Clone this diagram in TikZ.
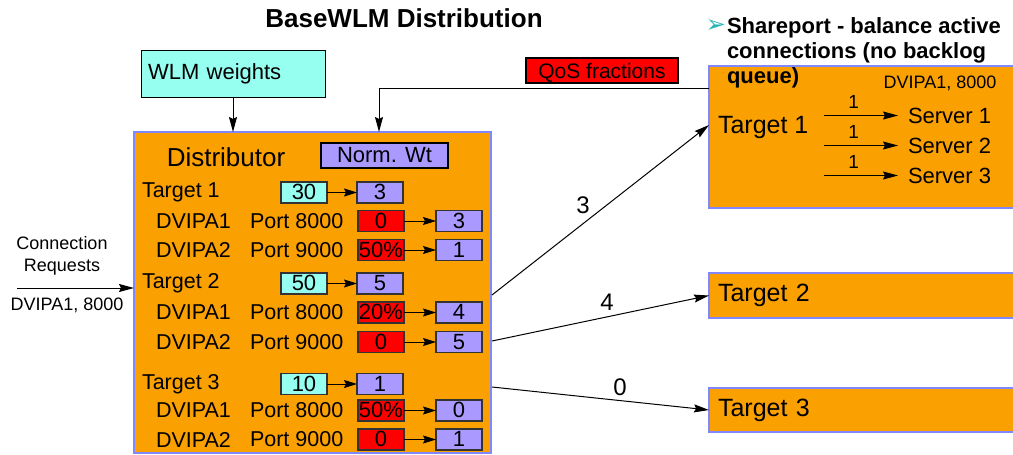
\documentclass[tikz,border=0pt]{standalone}
\usepackage{fontspec}
\setmainfont{Liberation Sans}
\newfontfamily\symfont{DejaVu Sans}
\usetikzlibrary{arrows.meta,calc}

\definecolor{boxorange}{RGB}{250,160,0}
\definecolor{edgeblue}{RGB}{128,136,255}
\definecolor{wcyan}{RGB}{150,255,240}
\definecolor{nlav}{RGB}{170,153,255}
\definecolor{qred}{RGB}{255,0,0}
\definecolor{bullteal}{RGB}{40,180,180}

\newcommand\fsz[1]{\fontsize{#1}{#1}\selectfont}

\begin{document}
\begin{tikzpicture}[x=1pt,y=-1pt,
  every node/.style={inner sep=0pt, outer sep=0pt},
  panel/.style={draw=edgeblue, line width=2.5pt, fill=boxorange},
  numbox/.style={draw=black!80, line width=1.1pt, minimum width=46pt, minimum height=21pt,
                 font=\fsz{22}, text depth=0pt, text height=14pt},
  wbox/.style={numbox, fill=wcyan},
  nbox/.style={numbox, fill=nlav},
  qbox/.style={numbox, fill=qred},
  link/.style={line width=1pt, -{Stealth[length=15pt,width=8pt,inset=2pt]}},
  small link/.style={line width=1pt, -{Stealth[length=13pt,width=8pt,inset=2pt]}},
  rowlabel/.style={anchor=west, font=\fsz{21.5}},
]
\useasboundingbox (0,0) rectangle (1013,455);

% title
\node[font=\bfseries\fsz{26}] (title) at (404,18) {BaseWLM Distribution};

% inputs above the distributor
\node[draw, line width=0.9pt, fill=wcyan, minimum width=184pt, minimum height=47pt,
      text width=170pt, align=left, font=\fsz{22}] (wlm) at (233,73.5) {WLM weights};
\node[draw, line width=2pt, fill=qred, minimum width=152pt, minimum height=25pt,
      font=\fsz{21}, text depth=0pt, text height=16pt] (qos) at (602,70) {QoS fractions};

% distributor panel
\node[panel, minimum width=357pt, minimum height=321pt] (dist) at (312.5,292.5) {};
\node[font=\fsz{26}] (distlbl) at (226,157) {Distributor};
\node[draw=black, line width=2pt, fill=nlav, minimum width=127pt, minimum height=25pt,
      font=\fsz{22}] (normwt) at (384.5,155.5) {Norm. Wt};

% per-target weights
\foreach \n/\y/\w/\v in {1/192.5/30/3, 2/283.5/50/5, 3/384/10/1} {
  \node[rowlabel] (tl\n) at (142,\y) {Target \n};
  \node[wbox] (w\n) at (304,\y) {\w};
  \node[nbox] (nw\n) at (380,\y) {\v};
  \draw[small link] (w\n) -- (nw\n);
}

% per-port QoS fractions and normalised weights
\foreach \n/\y/\ip/\port/\q/\v in {11/221/1/8000/0/3, 12/250/2/9000/50\%/1,
                                   21/312.5/1/8000/20\%/4, 22/342/2/9000/0/5,
                                   31/410.5/1/8000/50\%/0, 32/439.5/2/9000/0/1} {
  \node[rowlabel] (ip\n) at (156,\y) {DVIPA\ip};
  \node[rowlabel] (pt\n) at (250,\y) {Port \port};
  \node[qbox] (q\n) at (381,\y) {\q};
  \node[nbox] (np\n) at (459,\y) {\v};
  \draw[small link] (q\n) -- (np\n);
}

% target stacks on the right
\node[panel, minimum width=311pt, minimum height=142pt] (sp) at (864.5,137) {};
\node[panel, minimum width=311pt, minimum height=45pt, text width=293pt, align=left,
      font=\fsz{25}] (t2) at (864.5,295.5) {Target 2};
\node[panel, minimum width=311pt, minimum height=44pt, text width=293pt, align=left,
      font=\fsz{25}] (t3) at (864.5,410) {Target 3};

% shareport heading
\node[text=bullteal, font=\symfont\fsz{24}] (bul) at (716,26) {➢};
\node[anchor=base west, font=\bfseries\fsz{22}] (hd1) at (727,33) {Shareport - balance active};
\node[anchor=base west, font=\bfseries\fsz{22}] (hd2) at (727,58) {connections (no backlog};
\node[anchor=base west, font=\bfseries\fsz{22}] (hd3) at (727,83) {queue)};

\node[font=\fsz{18}] (spip) at (940,83) {DVIPA1, 8000};
\node[anchor=west, font=\fsz{25}] (tg1) at (718,127) {Target 1};
\foreach \i/\y in {1/115.5,2/145.5,3/175.5} {
  \node[anchor=west, inner xsep=10pt, font=\fsz{22}] (srv\i) at (898,\y) {Server \i};
  \coordinate (sa\i) at (824,\y);
  \draw[link] (sa\i) -- (srv\i.west) node[pos=0.4, above=7pt, font=\fsz{19}] {1};
}

% feeds into the distributor
\draw[link] (wlm.south) -- (wlm.south |- dist.north);
\coordinate (qin) at ($(sp.north west)+(0,22)$);
\coordinate (qtop) at (379,132);
\draw[link] (qin) -| (qtop);

% connection requests
\node[align=center, font=\fsz{18}] (creq) at (62,256) {Connection\\[4pt]Requests};
\node[font=\fsz{18}] (cip) at (67,305) {DVIPA1, 8000};
\coordinate (cin) at (17,288);
\draw[link] (cin) -- (cin -| dist.west);

% distribution to the targets
\coordinate (o1) at (492,295);
\coordinate (o2) at (492,341);
\coordinate (o3) at (492,387);
\draw[link] (o1) -- ([yshift=12pt]sp.west) node[pos=0.42, above=10pt, font=\fsz{24}] {3};
\draw[link] (o2) -- (t2.west) node[pos=0.53, above=6pt, font=\fsz{24}] {4};
\draw[link] (o3) -- (t3.west) node[pos=0.59, above=5pt, font=\fsz{24}] {0};
\end{tikzpicture}
\end{document}
